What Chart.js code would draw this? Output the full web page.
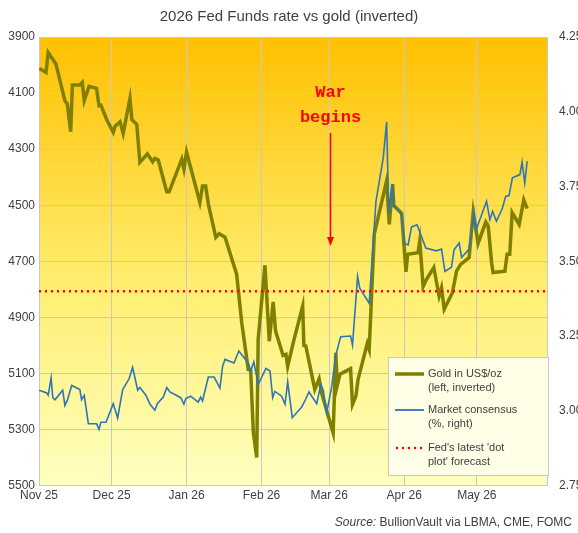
<!DOCTYPE html>
<html><head><meta charset="utf-8">
<script src="https://cdn.jsdelivr.net/npm/chart.js@4"></script>
<style>html,body{margin:0;padding:0;background:#fff}#w{width:578px;height:533px}</style>
</head><body><div id="w"><canvas id="c"></canvas></div>
<script>
// x = days since 1 Nov 2025
const goldDays=[0.1,2.9,3.8,7.0,10.7,11.7,13.1,13.8,16.9,17.9,18.7,20.7,23.8,24.8,25.6,28.0,30.7,31.4,33.5,34.8,37.6,38.4,40.4,41.7,44.8,47.0,47.9,49.3,52.8,53.8,59.0,59.9,61.0,66.5,67.6,68.9,70.0,73.1,74.5,76.9,81.7,83.8,86.5,87.5,88.6,90.0,90.6,93.4,95.2,96.8,97.8,100.9,102.1,102.8,105.1,109.0,109.5,110.3,114.0,115.8,116.8,121.6,122.7,123.3,124.4,128.8,129.6,131.0,131.9,135.7,136.5,138.6,143.7,144.8,146.2,146.7,149.9,151.7,152.4,156.7,157.4,158.8,160.2,163.2,165.4,166.4,167.5,170.9,172.6,174.3,177.8,179.5,181.5,184.7,185.7,187.1,187.7,192.6,193.5,194.6,195.6,198.5,200.4,201.8];
const goldUSD=[4012,4026,3955,3996,4127,4139,4238,4071,4071,4062,4127,4076,4083,4145,4143,4195,4240,4219,4202,4244,4119,4195,4211,4347,4317,4345,4333,4339,4452,4452,4336,4371,4310,4490,4431,4431,4496,4615,4602,4614,4746,4918,5086,5088,5311,5400,4978,4714,4985,4845,4949,5036,5032,5075,4990,4860,5000,5002,5157,5119,5169,5312,5026,5143,5103,5083,5211,5181,5121,4993,5014,4603,4413,4568,4425,4502,4528,4738,4675,4669,4627,4790,4764,4722,4824,4794,4871,4812,4735,4711,4687,4524,4636,4560,4574,4705,4740,4735,4675,4675,4526,4568,4481,4512];
const rateDays=[0.1,3.2,3.8,5.0,5.7,6.6,9.8,10.7,11.7,13.5,16.9,17.6,18.7,20.4,23.8,24.8,25.6,27.7,30.7,32.5,34.6,37.3,38.7,40.8,41.7,44.2,45.9,47.9,48.9,51.4,52.8,54.1,58.6,59.9,60.7,62.7,65.8,66.8,67.6,70.0,72.4,74.8,75.9,76.9,80.6,82.6,86.5,87.5,88.8,90.6,93.8,95.5,96.6,97.5,100.3,101.7,102.8,104.7,108.6,109.9,111.6,114.8,116.5,117.5,118.9,121.0,122.7,124.7,128.8,129.6,131.7,132.6,136.5,139.3,142.3,143.7,144.6,146.0,146.7,149.9,151.2,152.6,154.0,156.3,158.1,159.9,164.3,166.4,167.8,170.5,171.6,173.7,174.7,177.8,179.8,180.6,185.0,186.4,187.5,189.1,191.6,192.9,194.3,195.7,198.8,199.7,200.8,201.8];
const ratePct=[3.069,3.060,3.052,3.110,3.044,3.037,3.069,3.018,3.035,3.085,3.071,3.037,3.052,2.957,2.957,2.938,2.962,2.962,3.024,2.976,3.071,3.108,3.145,3.069,3.078,3.052,3.022,3.002,3.024,3.046,3.078,3.063,3.044,3.022,3.041,3.049,3.029,3.046,3.033,3.113,3.113,3.076,3.149,3.172,3.160,3.200,3.160,3.133,3.164,3.088,3.142,3.133,3.044,3.065,3.049,3.022,3.097,2.977,3.013,3.033,3.063,3.024,3.089,3.069,2.993,3.080,3.186,3.248,3.250,3.220,3.449,3.410,3.360,3.701,3.846,3.966,3.659,3.757,3.684,3.656,3.559,3.555,3.615,3.622,3.583,3.544,3.535,3.541,3.466,3.480,3.539,3.561,3.513,3.541,3.664,3.603,3.701,3.639,3.667,3.634,3.678,3.717,3.720,3.779,3.790,3.832,3.762,3.835];
const fedDot=3.40;
const monthDays=[0,30,61,92,120,151,181];
const monthLabels=['Nov 25','Dec 25','Jan 26','Feb 26','Mar 26','Apr 26','May 26'];
const goldTicks=[3900,4100,4300,4500,4700,4900,5100,5300,5500];
const rateTicks=[2.75,3,3.25,3.5,3.75,4,4.25];
const warDay=120.5;
const X_MAX=210;

const gold=goldDays.map((d,i)=>({x:d,y:goldUSD[i]}));
const rate=rateDays.map((d,i)=>({x:d,y:ratePct[i]}));
const fed=[{x:0,y:fedDot},{x:X_MAX,y:fedDot}];

const bg={id:'bg',beforeDraw(ch){const {ctx,chartArea:a}=ch;const g=ctx.createLinearGradient(0,a.top,0,a.bottom);g.addColorStop(0,'#FFC000');g.addColorStop(0.55,'#FFEE70');g.addColorStop(1,'#FFFFC0');ctx.save();ctx.fillStyle=g;ctx.fillRect(a.left,a.top,a.right-a.left,a.bottom-a.top);ctx.restore();}};
const deco={id:'deco',afterDatasetsDraw(ch){const {ctx,chartArea:a}=ch;const x=ch.scales.x.getPixelForValue(warDay);ctx.save();
ctx.fillStyle='#FF0000';ctx.font='bold 17px "Liberation Mono", "DejaVu Sans Mono", monospace';ctx.textAlign='center';ctx.textBaseline='middle';
ctx.fillText('War',x,93);ctx.fillText('begins',x,118);
ctx.strokeStyle='#FF0000';ctx.lineWidth=1.5;ctx.beginPath();ctx.moveTo(x,133);ctx.lineTo(x,240);ctx.stroke();
ctx.beginPath();ctx.moveTo(x-3.5,237);ctx.lineTo(x+3.5,237);ctx.lineTo(x,246);ctx.closePath();ctx.fill();
const lx=388,ly=357,lw=160,lh=118;ctx.fillStyle='rgba(255,255,235,0.95)';ctx.fillRect(lx,ly,lw,lh);ctx.strokeStyle='#c8c8c8';ctx.lineWidth=1;ctx.strokeRect(lx+0.5,ly+0.5,lw,lh);
ctx.font='11px "Liberation Sans", Arial, sans-serif';ctx.fillStyle='#404040';ctx.textAlign='left';
ctx.strokeStyle='#808000';ctx.lineWidth=3.5;ctx.beginPath();ctx.moveTo(lx+7,ly+17);ctx.lineTo(lx+36,ly+17);ctx.stroke();
ctx.fillText('Gold in US$/oz',lx+40,ly+17);ctx.fillText('(left, inverted)',lx+40,ly+31);
ctx.strokeStyle='#2E75B6';ctx.lineWidth=1.8;ctx.beginPath();ctx.moveTo(lx+7,ly+53);ctx.lineTo(lx+36,ly+53);ctx.stroke();
ctx.fillText('Market consensus',lx+40,ly+53);ctx.fillText('(%, right)',lx+40,ly+67);
ctx.fillStyle='#FF0000';for(let i=0;i<5;i++){ctx.beginPath();ctx.arc(lx+9+i*6,ly+91,1.3,0,Math.PI*2);ctx.fill();}
ctx.fillStyle='#404040';ctx.fillText("Fed's latest 'dot",lx+40,ly+91);ctx.fillText("plot' forecast",lx+40,ly+105);
ctx.textAlign='right';ctx.font='12px "Liberation Sans", Arial, sans-serif';const s=' BullionVault via LBMA, CME, FOMC';ctx.fillText(s,572,523);const w=ctx.measureText(s).width;ctx.font='italic 12px "Liberation Sans", Arial, sans-serif';ctx.fillText('Source:',572-w,523);
ctx.restore();}};

new Chart(document.getElementById('c'),{type:'scatter',
data:{datasets:[
{label:'Gold',data:gold,yAxisID:'y',showLine:true,borderColor:'#808000',borderWidth:3.5,pointRadius:0,tension:0,order:2},
{label:'Market',data:rate,yAxisID:'y1',showLine:true,borderColor:'#2E75B6',borderWidth:1.6,pointRadius:0,tension:0,order:1},
{label:'Fed',data:fed,yAxisID:'y1',showLine:true,borderColor:'#FF0000',borderWidth:2.5,borderDash:[2,4],pointRadius:0,order:0}
]},
options:{responsive:true,maintainAspectRatio:false,animation:false,
layout:{padding:{top:0,bottom:27,left:0,right:0}},
plugins:{legend:{display:false},tooltip:{enabled:false},title:{display:true,text:'2026 Fed Funds rate vs gold (inverted)',color:'#404040',font:{size:15,family:'"Liberation Sans", Arial, sans-serif',weight:'normal'},padding:{top:8,bottom:11}}},
scales:{
x:{type:'linear',min:0,max:X_MAX,afterBuildTicks(s){s.ticks=monthDays.map(v=>({value:v}));},
ticks:{autoSkip:false,maxRotation:0,color:'#404040',font:{size:12,family:'"Liberation Sans", Arial, sans-serif'},callback:(v)=>monthLabels[monthDays.indexOf(v)]||''},
grid:{color:'#c8c8c8',drawTicks:false},border:{color:'#c8c8c8'}},
y:{position:'left',reverse:true,min:3900,max:5500,afterBuildTicks(s){s.ticks=goldTicks.map(v=>({value:v}));},afterFit(s){s.width=39;},
ticks:{color:'#404040',font:{size:12,family:'"Liberation Sans", Arial, sans-serif'},padding:4,callback:v=>String(v)},grid:{color:'#c8c8c8',drawTicks:false},border:{color:'#c8c8c8'}},
y1:{position:'right',min:2.75,max:4.25,afterBuildTicks(s){s.ticks=rateTicks.map(v=>({value:v}));},afterFit(s){s.width=31;},
ticks:{color:'#404040',font:{size:12,family:'"Liberation Sans", Arial, sans-serif'},padding:4,callback:v=>v.toFixed(2)},grid:{display:false},border:{color:'#c8c8c8'}}
}},
plugins:[bg,deco]});
</script></body></html>
